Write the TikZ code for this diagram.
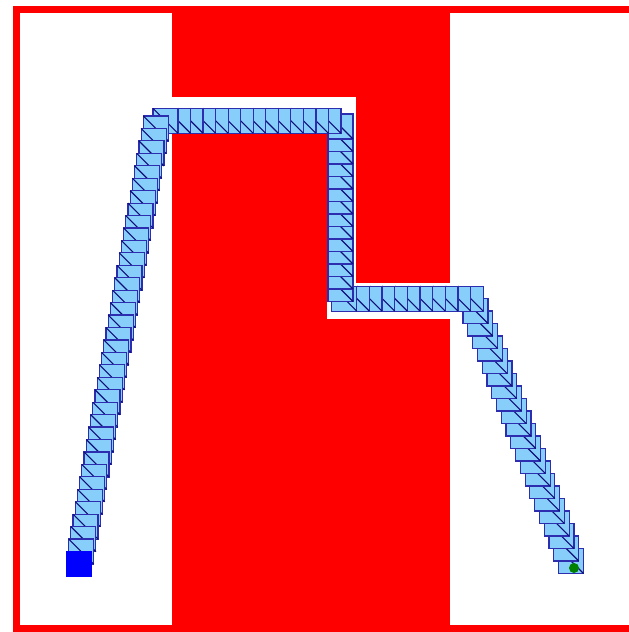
\documentclass[tikz,border=0pt]{standalone}
\usetikzlibrary{calc}
\definecolor{skyfill}{RGB}{135,206,250}
\definecolor{robedge}{RGB}{45,45,175}
\definecolor{robdiag}{RGB}{15,15,120}
\definecolor{goalgreen}{RGB}{0,128,0}
\tikzset{
  robotbody/.style={fill=skyfill, draw=robedge, line width=1.2pt},
  robotdiag/.style={draw=robdiag, line width=1.1pt},
  robot/.pic={\filldraw[robotbody] (-12.5,-12.5) rectangle (12.5,12.5);
              \draw[robotdiag] (-12.5,-12.5) -- (12.5,12.5);},
  wall/.style={fill=red, draw=none}
}
\newcommand\robseg[3]{\foreach \k in {#3,...,1}{\pic at ($(#1)!{\k/#3}!(#2)$) {robot};}}
\begin{document}
\begin{tikzpicture}[x=1pt,y=-1pt]
\useasboundingbox (0,0) rectangle (629,632);
\clip (0,0) rectangle (629,632);
% obstacles
\fill[wall] (172,9.5) rectangle (450,97);
\fill[wall] (172,133) rectangle (327,630);
\fill[wall] (356,97) rectangle (450,283);
\fill[wall] (327,319) rectangle (450,630);
% frame
\draw[red, line width=7pt] (16.5,9.5) rectangle (640,628.5);
% path waypoints
\coordinate (S) at (79,564);
\coordinate (L) at (155.8,128.5);
\coordinate (A) at (165.5,120.8);
\coordinate (B) at (328.5,120.8);
\coordinate (C) at (340.5,126.5);
\coordinate (D) at (340.5,289);
\coordinate (E) at (344.2,298.6);
\coordinate (F) at (470.8,298.6);
\coordinate (G) at (571,561);
% robot poses, drawn from goal back to start
\robseg{F}{G}{21}
\robseg{E}{F}{10}
\robseg{D}{E}{1}
\robseg{C}{D}{13}
\robseg{B}{C}{1}
\robseg{A}{B}{13}
\robseg{L}{A}{1}
\robseg{S}{L}{35}
\pic at (S) {robot};
% start and goal
\fill[blue] ($(S)+(-13,-13)$) rectangle ($(S)+(13,13)$);
\fill[goalgreen] (574,568) circle (5);
\end{tikzpicture}
\end{document}
